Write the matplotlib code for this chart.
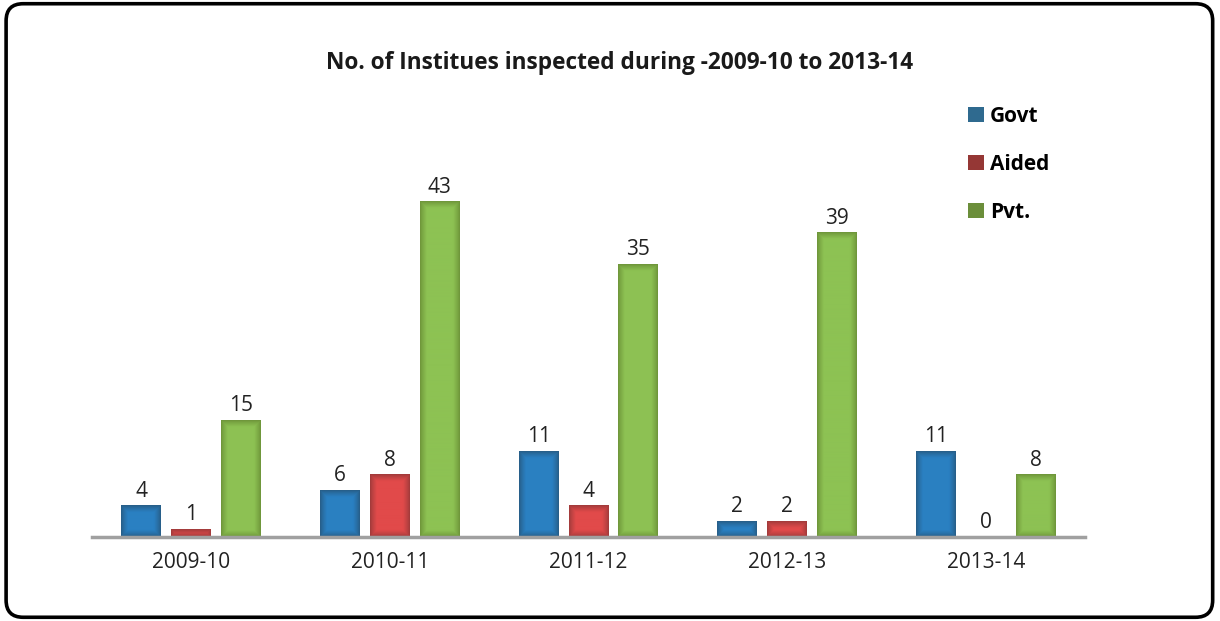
import matplotlib.pyplot as plt
import matplotlib.colors as mcolors
from matplotlib.patches import FancyBboxPatch, Patch
import numpy as np

# data
years = ["2009-10", "2010-11", "2011-12", "2012-13", "2013-14"]
govt = [4, 6, 11, 2, 11]
aided = [1, 8, 4, 2, 0]
pvt = [15, 43, 35, 39, 8]

series = [
    ("Govt", govt, "#2a80c2", "#275b83", "#2f6a8f"),
    ("Aided", aided, "#e14a4a", "#9c3a3a", "#953735"),
    ("Pvt.", pvt, "#8dc253", "#6c9238", "#6b8e3a"),
]

plt.rcParams['font.family'] = ['Open Sans', 'DejaVu Sans']

fig = plt.figure(figsize=(12.2, 6.21), dpi=100)
ax = fig.add_axes([0.0754, 0.135, 0.814, 0.628])

x = np.arange(len(years))
width = 0.201
step = 0.251
px_per_unit = 390 / 50.0


def shaded_bar(ax, xc, h, c_in, c_edge):
    if h <= 0:
        return
    hp = max(int(round(h * px_per_unit)), 2)
    wp = 40
    yy, xx = np.mgrid[0:hp, 0:wp]
    d = np.minimum(np.minimum(xx + 0.5, wp - xx - 0.5), np.minimum(yy + 0.5, hp - yy - 0.5))
    s = np.clip(d / 7.0, 0, 1) ** 0.8
    a = np.array(mcolors.to_rgb(c_edge))
    b = np.array(mcolors.to_rgb(c_in))
    img = a + (b - a) * s[..., None]
    ax.imshow(img, extent=(xc - width / 2, xc + width / 2, 0, h), origin='lower',
              aspect='auto', interpolation='bilinear', zorder=2)


for i, (name, vals, c_in, c_edge, c_leg) in enumerate(series):
    xs = x + (i - 1) * step
    for xc, v in zip(xs, vals):
        shaded_bar(ax, xc, v, c_in, c_edge)
        ax.annotate(str(v), (xc, v), xytext=(0, 3), textcoords='offset points',
                    ha='center', va='bottom', fontsize=15, color='#222222')

ax.set_xlim(-0.5, len(years) - 0.5)
ax.set_ylim(0, 50)
ax.set_xticks(x)
ax.set_xticklabels(years, fontsize=15, color='#222222')
ax.tick_params(axis='x', length=0, pad=11)
ax.set_yticks([])
for sp in ['top', 'right', 'left']:
    ax.spines[sp].set_visible(False)
ax.spines['bottom'].set_color('#a0a0a0')
ax.spines['bottom'].set_linewidth(2.5)
ax.spines['bottom'].set_zorder(3)

fig.text(0.508, 0.898, "No. of Institues inspected during -2009-10 to 2013-14",
         ha='center', va='center', fontsize=16.3, fontweight='bold', color='#1a1a1a')

handles = [Patch(facecolor=s[4], edgecolor='none', label=s[0]) for s in series]
leg = fig.legend(handles=handles, loc='upper left', bbox_to_anchor=(0.778, 0.86),
                 frameon=False, handlelength=0.75, handleheight=0.75, handletextpad=0.3,
                 labelspacing=1.3, prop={'weight': 'bold', 'size': 15})

border = FancyBboxPatch((0.005, 0.006), 0.989, 0.988, boxstyle="round,pad=0,rounding_size=0.014",
                        transform=fig.transFigure, fill=False, edgecolor='black', linewidth=2.6,
                        mutation_aspect=1220 / 621)
fig.patches.append(border)

fig.savefig("out.png", dpi=100)
